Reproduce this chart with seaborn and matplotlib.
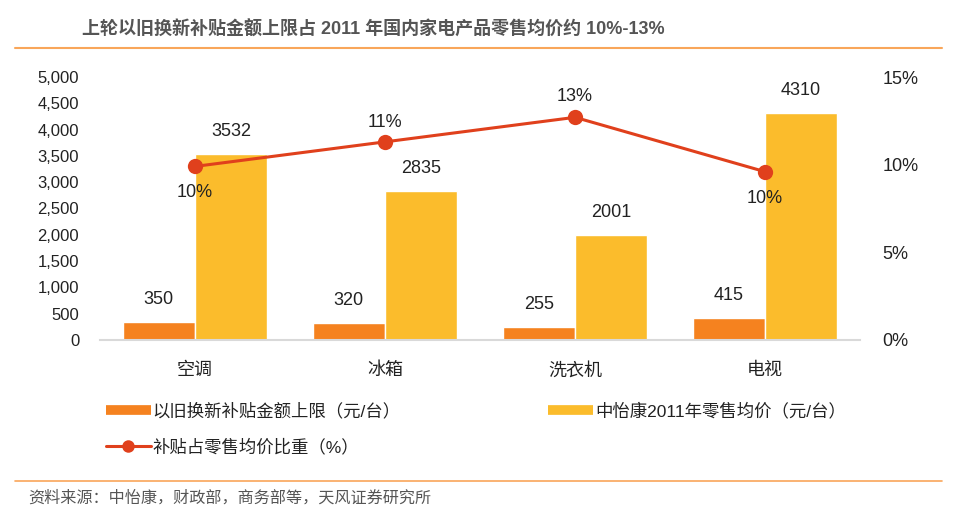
import seaborn as sns
import pandas as pd
import matplotlib.pyplot as plt
from matplotlib.lines import Line2D

# data
categories = ['空调', '冰箱', '洗衣机', '电视']
subsidy = [350, 320, 255, 415]           # 以旧换新补贴金额上限（元/台）
retail_price = [3532, 2835, 2001, 4310]  # 中怡康2011年零售均价（元/台）
share_pct = [9.9, 11.3, 12.7, 9.6]       # 补贴占零售均价比重（%）
share_labels = ['10%', '11%', '13%', '10%']

series_names = ['以旧换新补贴金额上限（元/台）', '中怡康2011年零售均价（元/台）']
line_name = '补贴占零售均价比重（%）'

orange = '#F5821F'
yellow = '#FBBC2C'
red = '#E0401C'

sns.set_theme(style='white')
plt.rcParams['font.family'] = ['Liberation Sans', 'Noto Sans CJK SC', 'DejaVu Sans']

df = pd.DataFrame({
    'cat': categories * 2,
    'value': subsidy + retail_price,
    'series': [series_names[0]] * 4 + [series_names[1]] * 4,
})

fig = plt.figure(figsize=(9.6, 5.25), dpi=100)
ax = fig.add_axes([100 / 960, 1 - 340 / 525, 760 / 960, 263 / 525])

sns.barplot(data=df, x='cat', y='value', hue='series', palette=[orange, yellow],
            width=0.76, gap=0, saturation=1, ax=ax, legend=False)
ax.set_xlim(-0.5, 3.5)
ax.set_ylim(0, 5000)
ax.set_yticks(range(0, 5001, 500))
ax.set_yticklabels([f'{v:,}' for v in range(0, 5001, 500)])
ax.set_xlabel('')
ax.set_ylabel('')
ax.tick_params(axis='y', labelsize=12, colors='#222222', length=0, pad=15)
ax.tick_params(axis='x', labelsize=13, colors='#222222', length=0, pad=16)

for cont in ax.containers:
    ax.bar_label(cont, fmt='%d', padding=10, fontsize=13, color='#222222')

for side in ['left', 'right', 'top']:
    ax.spines[side].set_visible(False)
ax.spines['bottom'].set_color('#D9D9D9')
ax.spines['bottom'].set_linewidth(1.5)

ax2 = ax.twinx()
xs = list(range(len(categories)))
sns.lineplot(x=xs, y=share_pct, color=red, linewidth=2.2, marker='o', markersize=11,
             markeredgewidth=0, sort=False, ax=ax2)
ax2.set_ylim(0, 15)
ax2.set_yticks([0, 5, 10, 15])
ax2.set_yticklabels(['0%', '5%', '10%', '15%'])
ax2.tick_params(axis='y', labelsize=13, colors='#222222', length=0, pad=16)
for side in ['left', 'right', 'top', 'bottom']:
    ax2.spines[side].set_visible(False)

offsets = [-26, 19, 21, -27]
for x, y, lab, off in zip(xs, share_pct, share_labels, offsets):
    ax2.annotate(lab, (x, y), xytext=(0, off * 0.72), textcoords='offset points',
                 ha='center', va='center', fontsize=13, color='#222222')

# title and rules
fig.text(82 / 960, 1 - 30 / 525, '上轮以旧换新补贴金额上限占 2011 年国内家电产品零售均价约 10%-13%',
         fontsize=13, fontweight='bold', color='#555555', va='center')
fig.add_artist(Line2D([15 / 960, 942 / 960], [1 - 48 / 525] * 2, color='#F9A65A', lw=1.5))
fig.add_artist(Line2D([15 / 960, 942 / 960], [1 - 481 / 525] * 2, color='#F9A65A', lw=1.2))
fig.text(28 / 960, 1 - 498 / 525, '资料来源：中怡康，财政部，商务部等，天风证券研究所',
         fontsize=11.6, color='#555555', va='center')

# legend
h_bar1 = Line2D([], [], color=orange, lw=7, solid_capstyle='butt')
h_bar2 = Line2D([], [], color=yellow, lw=7, solid_capstyle='butt')
h_line = Line2D([], [], color=red, lw=2.2, marker='o', markersize=9, markeredgewidth=0)
fig.legend([h_bar1, h_line, h_bar2], [series_names[0], line_name, series_names[1]],
           ncol=2, loc='upper left', bbox_to_anchor=(90 / 960, 1 - 387 / 525),
           frameon=False, fontsize=12.5, handlelength=2.6, handletextpad=0.1,
           columnspacing=8.5, labelspacing=1.1, labelcolor='#222222')

fig.savefig('out.png', dpi=100)
